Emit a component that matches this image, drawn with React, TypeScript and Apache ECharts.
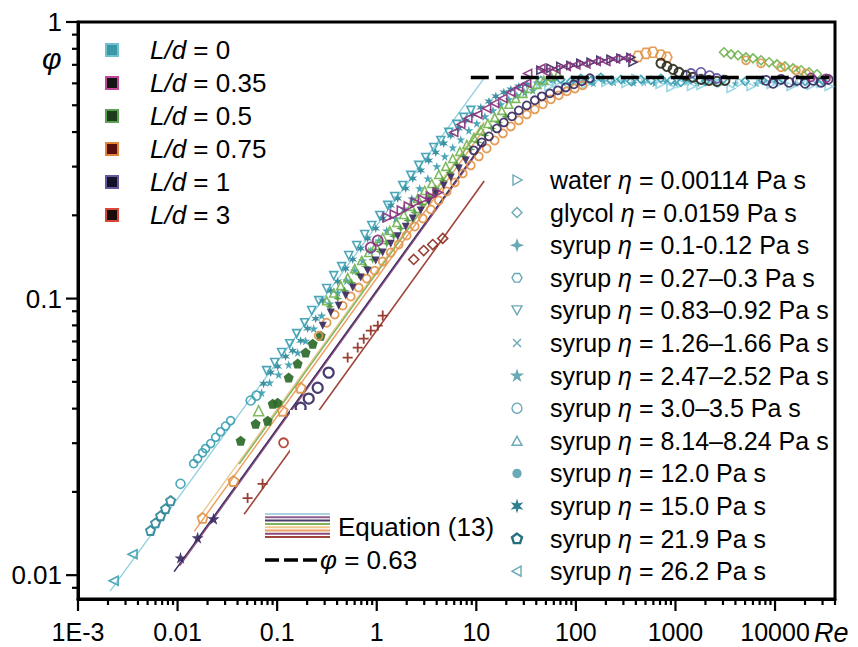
import React, { useEffect, useRef } from "react";
import * as echarts from "echarts";

const FONT = "'Liberation Sans', Arial, 'DejaVu Sans', sans-serif";

// ---- axes ----
const XMIN = 0.001, XMAX = 40000, YMIN = 0.0082, YMAX = 1;
const xTickLabels = ["1E-3", "0.01", "0.1", "1", "10", "100", "1000", "10000"];
const yTickLabels = ["0.01", "0.1", "1"];
const PHI_RCP = 0.63;
const phiLine = [[8.8, PHI_RCP], [35000, PHI_RCP]];

// ---- Equation (13) lines (slope 1/2 in log-log) ----
const eqLd0 = [[0.0021, 0.00875], [12, 0.627]];
const eqLd1 = [[0.00923, 0.0103], [12, 0.37]];
const eqLd035 = [[0.0105, 0.0108], [12, 0.365]];
const eqLd075 = [[0.0147, 0.0144], [12, 0.41]];
const eqTan = [[0.0165, 0.0162], [12, 0.437]];
const eqLd05 = [[0.0415, 0.0252], [12, 0.43]];
const eqLd3 = [[0.0466, 0.0166], [12, 0.266]];

// ---- L/d = 0 (teal) ----
const ld0Visc = [[0.00228, 0.00954], [0.00353, 0.0119]];
const ld0Cluster = [[0.00535, 0.0145], [0.00601, 0.01545], [0.00675, 0.0164], [0.00757, 0.0174], [0.00851, 0.0186]];
const ld0Dots = [[0.0107, 0.0214], [0.0542, 0.0428], [0.062, 0.0446]];
const ld0Run = [[0.01449, 0.0253], [0.01589, 0.0264], [0.01783, 0.0277], [0.0191, 0.0287], [0.0215, 0.0299], [0.0241, 0.0315], [0.027, 0.033], [0.0303, 0.0346], [0.0341, 0.0362]];
const ld0BandMid = [[0.0731, 0.0492], [0.0861, 0.054], [0.1012, 0.0568], [0.1216, 0.0617], [0.1432, 0.0648], [0.1722, 0.0704], [0.2023, 0.0779], [0.2438, 0.0846], [0.2864, 0.0983], [0.3451, 0.1068], [0.4055, 0.1152], [0.4875, 0.1283], [0.574, 0.1385], [0.69, 0.1517], [0.811, 0.1649], [0.977, 0.1792], [1.148, 0.1948], [1.383, 0.2172], [1.626, 0.23], [1.954, 0.2502], [2.3, 0.2718], [2.767, 0.2907], [3.33, 0.3159], [3.917, 0.3376], [4.71, 0.364], [5.546, 0.389], [6.67, 0.4124], [7.834, 0.4407], [9.23, 0.4633], [11.09, 0.491], [13.4, 0.5164], [15.7, 0.5385], [18.9, 0.5567], [22.2, 0.5706], [26.7, 0.585], [32.1, 0.595]];
const ld0BandUpper = [[0.0783, 0.0549], [0.0944, 0.0587], [0.1109, 0.0638], [0.1337, 0.0687], [0.157, 0.0747], [0.1888, 0.0818], [0.2223, 0.0905], [0.2614, 0.0983], [0.3141, 0.1087], [0.37, 0.1211], [0.4446, 0.1305], [0.5236, 0.1431], [0.6295, 0.1555], [0.757, 0.1704], [0.891, 0.1837], [1.072, 0.1998], [1.29, 0.2172], [1.516, 0.2339], [1.825, 0.2565], [2.198, 0.2788], [2.64, 0.303], [3.105, 0.3238], [3.74, 0.3518], [4.395, 0.373], [5.29, 0.3988], [6.37, 0.4264], [7.48, 0.452], [8.81, 0.479]];
const ld0BandLower = [[0.0698, 0.0457], [0.0841, 0.0497], [0.1035, 0.0531], [0.1306, 0.0577], [0.1607, 0.0638], [0.1932, 0.0704], [0.2328, 0.0779], [0.28, 0.0868], [0.3373, 0.0959], [0.4055, 0.1051], [0.4989, 0.1161], [0.601, 0.1262], [0.7228, 0.1373], [0.871, 0.1492], [1.048, 0.1622], [1.26, 0.1762], [1.552, 0.1948], [1.867, 0.2117], [2.25, 0.23], [2.7, 0.2502], [3.26, 0.2718], [4.01, 0.3005], [4.82, 0.3266], [5.8, 0.3518], [6.982, 0.376], [8.41, 0.4055], [10.1, 0.4298], [12.2, 0.4558], [14.7, 0.479], [17.6, 0.5036], [21.2, 0.5252], [25.5, 0.543], [30.7, 0.5567], [37.0, 0.566]];
const ld0PlateauWater = [[44.5, 0.595], [53.6, 0.585], [64.4, 0.605], [79.3, 0.59], [100, 0.615], [126, 0.595], [159, 0.62], [200, 0.605], [252, 0.615], [318, 0.6], [401, 0.626], [505, 0.61], [700, 0.595], [900, 0.58], [1150, 0.6], [1450, 0.585], [1803, 0.59], [2275, 0.615], [2864, 0.6], [3612, 0.575], [4550, 0.605], [5740, 0.585], [7228, 0.615], [9120, 0.595], [11480, 0.605], [14490, 0.585], [18240, 0.61], [23000, 0.59], [28970, 0.6], [34900, 0.585]];
const ld0PlateauGlycol = [[44.5, 0.615], [56.1, 0.626], [70.6, 0.62], [89.1, 0.61], [112, 0.626], [142, 0.615], [178, 0.631], [225, 0.615], [283, 0.62], [357, 0.61], [450, 0.62], [567, 0.615], [714, 0.626], [901, 0.615], [1135, 0.605], [1432, 0.62], [2000, 0.61], [3000, 0.62], [5000, 0.61], [7500, 0.615], [12000, 0.62], [20000, 0.61], [30000, 0.615]];
const ld0PlateauSyrup = [[40, 0.605], [48, 0.6], [60, 0.612], [75, 0.602], [95, 0.608], [120, 0.61], [150, 0.6], [190, 0.612], [240, 0.604], [300, 0.613], [380, 0.602], [480, 0.605], [620, 0.6], [800, 0.61], [1000, 0.6], [1300, 0.607], [1650, 0.6], [2500, 0.605], [4000, 0.6], [6500, 0.6], [10000, 0.61], [16000, 0.6], [26000, 0.605]];

// ---- L/d = 0.35 (magenta) ----
const ld035Band = [[1.29, 0.1964], [1.516, 0.2014], [1.784, 0.2083], [2.1, 0.2154], [2.466, 0.2226], [2.9, 0.2282], [3.491, 0.2339], [4.1, 0.2418]];
const ld035Upper = [[5.94, 0.3988], [6.982, 0.4264], [8.22, 0.4481], [10.35, 0.4633], [12.7, 0.4872], [15.3, 0.5078], [18.5, 0.5296], [22.2, 0.5567], [26.7, 0.58], [32.1, 0.6], [32.8, 0.652], [44.5, 0.68]];
const ld035Circ = [[0.871, 0.153], [1.024, 0.1622]];
const ld035Plateau = [[50, 0.66], [63, 0.675], [80, 0.69], [100, 0.7], [126, 0.705], [160, 0.72], [200, 0.72], [250, 0.735], [320, 0.74]];
const ld035Right = [[23000, 0.631], [32600, 0.626]];

// ---- L/d = 0.5 (green) ----
const ld05Upper = [[0.3141, 0.0983], [0.37, 0.1048], [0.4345, 0.1114], [0.5105, 0.1191], [0.601, 0.1283], [0.706, 0.1373], [0.83, 0.1467], [0.977, 0.1555], [1.148, 0.1663], [1.352, 0.1762], [1.589, 0.1884], [1.867, 0.2014], [2.198, 0.2154], [2.58, 0.23], [3.03, 0.246], [3.57, 0.2607], [4.2, 0.281], [4.932, 0.3005], [5.8, 0.321], [6.82, 0.3404], [8.03, 0.3608], [9.44, 0.3825], [11.09, 0.4055], [13.05, 0.4298], [15.3, 0.452], [18.0, 0.479], [21.2, 0.504], [24.9, 0.5296], [29.3, 0.552], [34.5, 0.575], [40.6, 0.595], [47.6, 0.615], [56.1, 0.636], [65.9, 0.647]];
const ld05Lower = [[0.3373, 0.0935], [0.4055, 0.1], [0.4764, 0.1068], [0.561, 0.1142], [0.659, 0.1222], [0.7745, 0.1305], [0.912, 0.1385], [1.072, 0.148], [1.26, 0.158], [1.48, 0.168], [1.742, 0.1792], [2.05, 0.1916], [2.41, 0.2047], [2.83, 0.2188], [3.33, 0.2339], [3.917, 0.2502], [4.6, 0.2674], [5.42, 0.2858], [6.37, 0.3055], [7.48, 0.3266], [8.81, 0.3462], [10.35, 0.367], [12.2, 0.389], [14.3, 0.4124], [16.8, 0.4335], [19.8, 0.4558]];
const ld05Pent = [[0.043, 0.0306], [0.0608, 0.0353], [0.0803, 0.0362], [0.0902, 0.0417], [0.1012, 0.042], [0.1306, 0.0518], [0.1607, 0.0582], [0.1932, 0.0638], [0.2275, 0.0687], [0.2735, 0.0734]];
const ld05Tri = [[0.0652, 0.0393]];
const ld05HighRe = [[3070, 0.777], [3612, 0.764], [4250, 0.758], [5110, 0.745], [6010, 0.739], [7228, 0.727], [8710, 0.715], [10470, 0.703], [12590, 0.691], [15160, 0.68], [18240, 0.669], [21960, 0.658], [26400, 0.647]];

// ---- L/d = 0.75 (orange) ----
const ld075Low = [[0.01783, 0.0161], [0.0365, 0.0219], [0.1135, 0.0393], [0.1722, 0.0476]];
const ld075Band = [[0.2614, 0.0734], [0.3141, 0.0818], [0.3785, 0.0875], [0.455, 0.0943], [0.5483, 0.1017], [0.659, 0.1096], [0.7925, 0.1181], [0.955, 0.1262], [1.148, 0.1361], [1.383, 0.1467], [1.663, 0.1568], [2.0, 0.169], [2.41, 0.1822], [2.9, 0.1948], [3.491, 0.2099], [4.2, 0.2264], [5.05, 0.2439], [6.08, 0.263], [7.31, 0.2835], [8.81, 0.303], [10.6, 0.3266], [12.7, 0.349], [15.3, 0.373], [18.5, 0.3955], [22.2, 0.4192], [26.7, 0.4407], [32.1, 0.4633], [38.7, 0.483], [46.6, 0.504], [56.1, 0.5252], [67.4, 0.543], [81.2, 0.5614], [97.7, 0.575], [117, 0.59]];
const ld075Peak = [[420, 0.751], [505, 0.77], [594, 0.777], [714, 0.758], [822, 0.745]];
const ld075HighRe = [[5110, 0.727], [7228, 0.709], [11480, 0.686], [16250, 0.669], [20500, 0.652]];

// ---- L/d = 1 (navy) ----
const ld1Low = [[0.0107, 0.01155], [0.01589, 0.01365], [0.023, 0.016]];
const ld1Circles = [[0.1722, 0.0403], [0.2075, 0.0435], [0.2553, 0.0476], [0.329, 0.054]];
const ld1BandTri = [[0.2864, 0.0798], [0.3451, 0.089], [0.415, 0.0943], [0.4875, 0.1025], [0.574, 0.1096], [0.69, 0.1191], [0.811, 0.1262], [0.977, 0.1373], [1.148, 0.1467], [1.383, 0.158], [1.626, 0.168], [1.954, 0.182], [2.3, 0.1948], [2.767, 0.2083], [3.33, 0.2244], [3.917, 0.2399], [4.71, 0.2565], [5.546, 0.274], [6.67, 0.2954], [7.834, 0.3159]];
const ld1BandCirc = [[9.44, 0.3434], [11.35, 0.367], [13.4, 0.3858], [16.1, 0.4124], [18.9, 0.4335], [22.8, 0.4558], [26.7, 0.479], [32.1, 0.4994], [38.7, 0.521], [45.5, 0.5385], [54.8, 0.552], [65.9, 0.566], [79.3, 0.58], [95.4, 0.595], [115, 0.61], [138, 0.626]];
const ld1Plateau = [[44.5, 0.669], [56.1, 0.68], [70.6, 0.691], [89.1, 0.697], [112, 0.709], [142, 0.715], [178, 0.727], [225, 0.733], [283, 0.739], [357, 0.745], [374, 0.715]];
const ld1Dark = [[714, 0.709], [822, 0.691], [945, 0.674], [1084, 0.658], [1275, 0.641], [1500, 0.631], [1803, 0.62], [2168, 0.615], [2610, 0.61], [3140, 0.615]];
const ld1Purple = [[1432, 0.652], [1803, 0.658], [2200, 0.64], [2600, 0.625]];
const ld1Right = [[8130, 0.615], [9550, 0.6], [11480, 0.62], [13830, 0.605], [16630, 0.615], [20040, 0.6], [24100, 0.615], [28970, 0.605], [34100, 0.62]];

// ---- L/d = 3 (brown) ----
const ld3Plus = [[0.0505, 0.019], [0.0714, 0.0214], [0.5105, 0.0612], [0.644, 0.0665], [0.74, 0.0716], [0.871, 0.0766], [1.024, 0.0798], [1.148, 0.0868]];
const ld3Circ = [[0.116, 0.0301]];
const ld3Diam = [[2.35, 0.1385], [2.96, 0.1492], [3.65, 0.1568], [4.6, 0.165]];

// ---- legends ----
const ldValues = ["0", "0.35", "0.5", "0.75", "1", "3"];
const ldFill = ["#3a97a8", "#141414", "#1d3d1d", "#5a0f0f", "#121226", "#1a0a0a"];
const ldStroke = ["#6fc0cc", "#c0479a", "#5aa050", "#e2873a", "#6b55a0", "#d9473a"];
const fluidNames = ["water", "glycol", "syrup", "syrup", "syrup", "syrup", "syrup", "syrup", "syrup", "syrup", "syrup", "syrup", "syrup"];
const fluidViscosity = ["0.00114", "0.0159", "0.1-0.12", "0.27–0.3", "0.83–0.92", "1.26–1.66", "2.47–2.52", "3.0–3.5", "8.14–8.24", "12.0", "15.0", "21.9", "26.2"];
const fluidMarkers = ["triR", "diamond", "star4", "hexagon", "triDown", "cross", "star5", "circle", "triUp", "dot", "asterisk", "pentagon", "triL"];
const eqLegendColors = ["#a9d2e3", "#8e5c8e", "#4a3c6a", "#7fb35f", "#f0c88c", "#eea060", "#8a4a7a", "#a0443a"];

const SYM: Record<string, string> = {
  triR: "M1,0 L10,5 L1,10 Z",
  triL: "M9,0 L0,5 L9,10 Z",
  triUp: "M5,0.5 L10,9.5 L0,9.5 Z",
  triDown: "M0,0.5 L10,0.5 L5,9.5 Z",
  diamond: "M5,0 L10,5 L5,10 L0,5 Z",
  hexagon: "M2.5,0.7 L7.5,0.7 L10,5 L7.5,9.3 L2.5,9.3 L0,5 Z",
  star4: "M5,0 L6.3,3.7 L10,5 L6.3,6.3 L5,10 L3.7,6.3 L0,5 L3.7,3.7 Z",
  star5: "M5,0 L6.2,3.6 L10,3.6 L6.9,5.9 L8.1,9.5 L5,7.3 L1.9,9.5 L3.1,5.9 L0,3.6 L3.8,3.6 Z",
  pentagon: "M5,0 L10,3.6 L8.1,9.5 L1.9,9.5 L0,3.6 Z",
  cross: "M1,1 L9,9 M9,1 L1,9",
  plus: "M5,0 L5,10 M0,5 L10,5",
  asterisk: "M5,0 L6,3.3 L9.3,2.5 L7,5 L9.3,7.5 L6,6.7 L5,10 L4,6.7 L0.7,7.5 L3,5 L0.7,2.5 L4,3.3 Z",
};
Object.keys(SYM).forEach((k) => {
  echarts.graphic.registerShape("mk_" + k, echarts.graphic.extendPath(SYM[k], {}));
});

const TEAL = "#3c9fb2", TEAL_LIGHT = "#93d4e2", TEAL_DARK = "#2f8799";
const MAGENTA = "#8c327f", GREEN = "#74b454", GREEN_MID = "#4e9a3e", GREEN_DARK = "#2d6a2a";
const ORANGE = "#e2954a", NAVY = "#3a2b62", BROWN = "#8f2f22", OLIVE = "#2e2e20";

function scatter(data: number[][], mk: string, color: string, filled: boolean, size: number, lw = 1.6) {
  const isCircle = mk === "circle" || mk === "dot";
  return {
    type: "scatter",
    data,
    z: 3,
    silent: true,
    symbol: isCircle ? "circle" : "path://" + SYM[mk],
    symbolSize: size,
    itemStyle: filled
      ? { color, opacity: 0.92 }
      : { color: "rgba(255,255,255,0)", borderColor: color, borderWidth: lw, opacity: 0.92 },
  };
}

function eqLine(data: number[][], color: string, width = 1.5) {
  return { type: "line", data, symbol: "none", showSymbol: false, silent: true, z: 2, lineStyle: { color, width } };
}

function decadeLabel(v: number, labels: string[], offset: number) {
  const l = Math.log10(v);
  const e = Math.round(l);
  if (Math.abs(l - e) > 1e-6) return "";
  return labels[e + offset] ?? "";
}

function buildTicks() {
  const t: number[][] = [];
  for (let d = -3; d <= 4; d++)
    for (let k = 1; k <= 9; k++) {
      const v = k * Math.pow(10, d);
      if (v >= XMIN * 0.999 && v <= XMAX) t.push([v, YMIN, 0, k === 1 ? 12 : 6]);
    }
  for (let d = -3; d <= 0; d++)
    for (let k = 1; k <= 9; k++) {
      const v = k * Math.pow(10, d);
      if (v > YMIN && v <= YMAX * 1.001) t.push([XMIN, v, 1, k === 1 ? 12 : 6]);
    }
  return t;
}

function legendMarker(mk: string, cx: number, cy: number, size: number, fill: string, stroke: string, lw: number) {
  if (mk === "circle" || mk === "dot") {
    return { type: "circle", z: 100, silent: true, shape: { cx, cy, r: size / 2 }, style: { fill, stroke, lineWidth: lw } };
  }
  const s = size / 10;
  return { type: "mk_" + mk, z: 100, silent: true, x: cx - 5 * s, y: cy - 5 * s, scaleX: s, scaleY: s, style: { fill, stroke, lineWidth: lw / s } };
}

function txt(x: number, y: number, text: string, size: number, extra: any = {}) {
  return {
    type: "text", z: 100, silent: true, x, y,
    style: {
      text, fill: "#000", fontSize: size, fontFamily: FONT,
      align: "left", verticalAlign: "middle", textAlign: "left", textVerticalAlign: "middle",
      ...extra,
    },
  };
}

function buildGraphic() {
  const g: any[] = [];
  g.push({ type: "rect", z: 50, silent: true, shape: { x: 290, y: 410, width: 543, height: 186 }, style: { fill: "#fff" } });
  g.push(txt(42, 58, "φ", 30, { fontStyle: "italic" }));
  g.push(txt(814, 633, "Re", 27, { fontStyle: "italic" }));
  ldValues.forEach((v, i) => {
    const cy = 50 + 33 * i;
    g.push({ type: "rect", z: 100, silent: true, shape: { x: 106, y: cy - 6, width: 12, height: 12 }, style: { fill: ldFill[i], stroke: ldStroke[i], lineWidth: 2 } });
    g.push(txt(150, cy, `{i|L/d} = ${v}`, 26, { rich: { i: { fontStyle: "italic", fontSize: 26, fontFamily: FONT } } }));
  });
  fluidNames.forEach((n, i) => {
    const cy = 180 + 32.6 * i;
    const mk = fluidMarkers[i];
    const filled = mk === "star4" || mk === "star5" || mk === "dot" || mk === "asterisk";
    let color = "#6aa9b6", lw = 1.4;
    if (mk === "asterisk") color = "#2f7f90";
    if (mk === "pentagon") { color = "#276f80"; lw = 2.4; }
    g.push(legendMarker(mk, 517, cy, mk === "dot" ? 8 : 10, filled ? color : "#fff", color, lw));
    g.push(txt(550, cy, `${n} {e|η} = ${fluidViscosity[i]} Pa s`, 25, { rich: { e: { fontStyle: "italic", fontSize: 25, fontFamily: FONT } } }));
  });
  eqLegendColors.forEach((c, i) => {
    const y = 514 + 3.3 * i;
    g.push({ type: "line", z: 100, silent: true, shape: { x1: 265, y1: y, x2: 330, y2: y }, style: { stroke: c, lineWidth: 2 } });
  });
  g.push(txt(338, 527, "Equation (13)", 26));
  g.push({ type: "line", z: 100, silent: true, shape: { x1: 265, y1: 560, x2: 317, y2: 560 }, style: { stroke: "#000", lineWidth: 3.5, lineDash: [14, 5] } });
  g.push(txt(320, 560, "{i|φ} = 0.63", 26, { rich: { i: { fontStyle: "italic", fontSize: 26, fontFamily: FONT } } }));
  return g;
}

function buildOption() {
  const series: any[] = [
    eqLine(eqLd0, "#8fcfdc", 1.3),
    eqLine(eqLd1, NAVY, 1.6),
    eqLine(eqLd035, "#8a4a7a", 1.2),
    eqLine(eqLd075, "#eea060", 1.5),
    eqLine(eqTan, "#e8c88a", 1.3),
    eqLine(eqLd05, "#7fb35f", 1.5),
    eqLine(eqLd3, "#a0443a", 1.6),

    scatter(ld0Visc, "triL", TEAL, false, 9),
    scatter(ld0Cluster, "pentagon", TEAL_DARK, false, 9, 1.9),
    scatter(ld0Dots, "circle", TEAL, false, 9),
    scatter(ld0Run, "circle", TEAL, false, 8),
    scatter(ld0PlateauSyrup, "star5", TEAL, true, 8),
    scatter(ld0BandLower, "star5", TEAL, true, 9),
    scatter(ld0BandMid, "asterisk", TEAL_DARK, true, 9),
    scatter(ld0BandUpper, "triDown", TEAL, false, 8),
    scatter(ld0PlateauWater, "triR", TEAL_LIGHT, false, 8),
    scatter(ld0PlateauGlycol, "diamond", TEAL, false, 8),

    scatter(ld05Pent, "pentagon", GREEN_DARK, true, 10),
    scatter(ld05Tri, "triUp", GREEN, false, 10),
    scatter(ld05Upper, "triUp", GREEN, false, 8),
    scatter(ld05Lower, "star4", GREEN_MID, true, 9),
    scatter(ld05HighRe, "diamond", GREEN, false, 9),

    scatter(ld075Low, "pentagon", ORANGE, false, 10, 1.8),
    scatter(ld075Band, "circle", ORANGE, false, 8, 1.8),
    scatter(ld075Peak, "hexagon", ORANGE, false, 10),
    scatter(ld075HighRe, "circle", ORANGE, false, 8),

    scatter(ld1Low, "star5", NAVY, true, 12),
    scatter(ld1Circles, "circle", NAVY, false, 10, 2.2),
    scatter(ld1BandTri, "triDown", NAVY, true, 8),
    scatter(ld1BandCirc, "circle", NAVY, false, 8, 1.8),
    scatter(ld1Plateau, "triR", NAVY, false, 8),
    scatter(ld1Dark, "circle", OLIVE, false, 9, 2),
    scatter(ld1Purple, "circle", "#5a4a9a", false, 9),
    scatter(ld1Right, "circle", NAVY, false, 9, 1.8),

    scatter(ld035Band, "triR", MAGENTA, false, 9),
    scatter(ld035Upper, "triL", MAGENTA, false, 8),
    scatter(ld035Circ, "circle", MAGENTA, false, 10, 1.8),
    scatter(ld035Plateau, "triL", MAGENTA, false, 8),
    scatter(ld035Right, "circle", MAGENTA, false, 8),

    scatter(ld3Plus, "plus", BROWN, false, 10, 1.8),
    scatter(ld3Circ, "circle", "#b03a2a", false, 9, 1.8),
    scatter(ld3Diam, "diamond", BROWN, false, 10, 1.6),

    { type: "line", data: phiLine, symbol: "none", showSymbol: false, silent: true, z: 5, lineStyle: { color: "#000", width: 3.5, type: [18, 7] } },
    {
      type: "custom", silent: true, clip: false, z: 6,
      data: buildTicks(),
      renderItem: (_p: any, api: any) => {
        const p = api.coord([api.value(0), api.value(1)]);
        const kind = api.value(2), len = api.value(3);
        const shape = kind === 0
          ? { x1: p[0], y1: p[1], x2: p[0], y2: p[1] + len }
          : { x1: p[0] - len, y1: p[1], x2: p[0], y2: p[1] };
        return { type: "line", shape, style: { stroke: "#000", lineWidth: 2.2 } };
      },
    },
  ];

  return {
    animation: false,
    backgroundColor: "#fff",
    textStyle: { fontFamily: FONT },
    grid: { left: 78, right: 23, top: 22, bottom: 48, show: true, borderColor: "#000", borderWidth: 3, backgroundColor: "transparent" },
    xAxis: {
      type: "log", logBase: 10, min: XMIN, max: XMAX,
      axisLine: { show: true, onZero: false, lineStyle: { color: "#000", width: 3 } },
      axisTick: { show: false }, minorTick: { show: false }, splitLine: { show: false },
      axisLabel: { color: "#000", fontSize: 25, fontFamily: FONT, margin: 20, formatter: (v: number) => decadeLabel(v, xTickLabels, 3) },
    },
    yAxis: {
      type: "log", logBase: 10, min: YMIN, max: YMAX,
      axisLine: { show: true, onZero: false, lineStyle: { color: "#000", width: 3 } },
      axisTick: { show: false }, minorTick: { show: false }, splitLine: { show: false },
      axisLabel: { color: "#000", fontSize: 26, fontFamily: FONT, margin: 16, formatter: (v: number) => decadeLabel(v, yTickLabels, 2) },
    },
    series,
    graphic: buildGraphic(),
  };
}

export default function App() {
  const ref = useRef<HTMLDivElement>(null);
  useEffect(() => {
    const chart = echarts.init(ref.current as HTMLDivElement, null, { renderer: "svg" });
    chart.setOption(buildOption() as any);
    return () => chart.dispose();
  }, []);
  return <div ref={ref} style={{ position: "fixed", left: 0, top: 0, width: 858, height: 647, background: "#fff" }} />;
}
